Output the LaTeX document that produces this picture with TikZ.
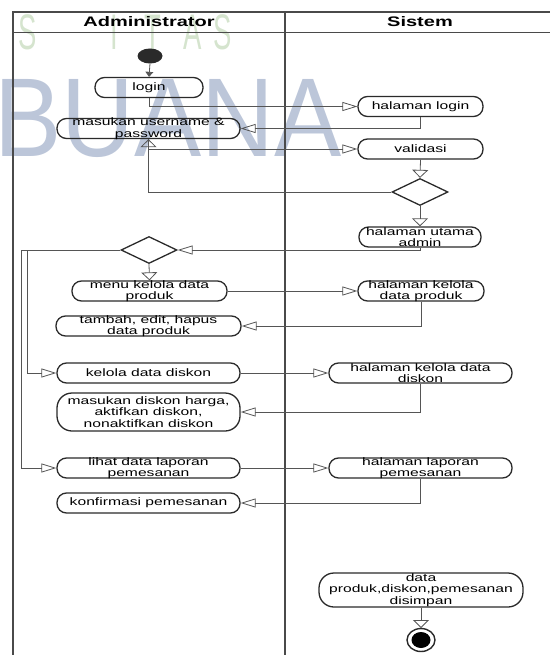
\documentclass[tikz,border=0pt]{standalone}
\usepackage{fontspec}
\setmainfont{Liberation Sans}[FakeStretch=1.45]
\newfontfamily\wmfont{Liberation Sans}
\usetikzlibrary{arrows.meta,shapes.geometric}

\definecolor{ink}{HTML}{2A2A2A}
\definecolor{wire}{HTML}{555555}
\definecolor{wmblue}{HTML}{BCC6D9}
\definecolor{wmgreen}{HTML}{D5E4CE}

\begin{document}
\begin{tikzpicture}[x=1pt,y=-1pt,
  frame/.style={draw=ink!85, line width=1.3pt},
  act/.style={draw=ink, line width=1.3pt, rounded corners=9.5pt,
              minimum height=20pt, inner sep=0pt},
  txt/.style={font=\fontsize{10.8}{11.5}\selectfont, align=center,
              inner sep=0pt, text=black},
  dec/.style={diamond, draw=ink, line width=1.3pt, minimum width=56pt,
              minimum height=27pt, inner sep=0pt},
  head/.style={font=\fontsize{13.8}{14}\selectfont\bfseries, anchor=base},
  wm/.style={anchor=base, inner sep=0pt, text=wmgreen,
             font=\wmfont\fontsize{50}{50}\selectfont},
  wire/.style={draw=wire, line width=0.8pt},
  harrow/.style={wire, -{Triangle[open, length=15pt, width=9pt, line width=0.8pt]}},
  varrow/.style={wire, -{Triangle[open, length=8pt, width=16pt, line width=0.8pt]}},
  startarrow/.style={wire, -{Triangle[length=5pt, width=8pt]}}
]
\useasboundingbox (0,0) rectangle (550,655);

% faint background lettering
\node[wm] (wm1) at (28,50) {\scalebox{0.55}[1]{S}};
\node[wm] (wm2) at (114,50) {\scalebox{0.55}[1]{I}};
\node[wm] (wm3) at (153,50) {\scalebox{0.55}[1]{T}};
\node[wm] (wm4) at (193,50) {\scalebox{0.55}[1]{A}};
\node[wm] (wm5) at (223,50) {\scalebox{0.55}[1]{S}};
\node[anchor=base west, inner sep=0pt, text=wmblue] (wm6) at (-6,157)
  {\wmfont\fontsize{112}{112}\selectfont\scalebox{0.9}[1]{BUANA}};

% swimlanes
\draw[frame] (13,655) -- (13,12) -- (550,12);
\draw[frame] (13,32.5) -- (550,32.5);
\draw[frame] (285,12) -- (285,655);
\node[head] (hadmin) at (149,27) {Administrator};
\node[head] (hsys) at (420,27) {Sistem};

% start and end
\fill[ink] (150,56) ellipse [x radius=12.5, y radius=7.5];
\coordinate (start) at (150,63.5);
\coordinate (endtop) at (421,628);
\draw[ink, line width=1.4pt] (421,640) ellipse [x radius=14, y radius=11.5];
\fill[black] (421,640) ellipse [x radius=9.5, y radius=8];

% administrator lane
\node[act, minimum width=108pt, label={[txt]center:login}] (login) at (149,87.5) {};
\node[act, minimum width=183pt, label={[txt]center:{masukan username \&\\password}}] (masuk) at (148.5,128.5) {};
\node[dec] (dec2) at (149,250) {};
\node[act, minimum width=155pt, label={[txt]center:{menu kelola data\\produk}}] (menu) at (149.5,291) {};
\node[act, minimum width=185pt, label={[txt]center:{tambah, edit, hapus\\data produk}}] (tambah) at (148.5,326) {};
\node[act, minimum width=183pt, label={[txt]center:{kelola data diskon}}] (kdiskon) at (148.5,373) {};
\node[act, minimum width=183pt, minimum height=38pt, rounded corners=15pt,
      label={[txt]center:{masukan diskon harga,\\aktifkan diskon,\\nonaktifkan diskon}}] (mdiskon) at (148.5,412) {};
\node[act, minimum width=183pt, label={[txt]center:{lihat data laporan\\pemesanan}}] (lihat) at (148.5,468) {};
\node[act, minimum width=183pt, label={[txt]center:{konfirmasi pemesanan}}] (konf) at (148.5,503) {};

% system lane
\node[act, minimum width=125pt, label={[txt]center:{halaman login}}] (hlogin) at (420.5,106.5) {};
\node[act, minimum width=125pt, label={[txt]center:{validasi}}] (valid) at (420.5,149) {};
\node[dec] (dec1) at (420,192) {};
\node[act, minimum width=122pt, label={[txt]center:{halaman utama\\admin}}] (hutama) at (420,237) {};
\node[act, minimum width=126pt, label={[txt]center:{halaman kelola\\data produk}}] (hproduk) at (421,291) {};
\node[act, minimum width=183pt, label={[txt]center:{halaman kelola data\\diskon}}] (hdiskon) at (420.5,373) {};
\node[act, minimum width=183pt, label={[txt]center:{halaman laporan\\pemesanan}}] (hlaporan) at (420.5,468) {};
\node[act, minimum width=204pt, minimum height=34pt, rounded corners=15pt,
      label={[txt]center:{data\\produk,diskon,pemesanan\\disimpan}}] (simpan) at (421,590) {};

% loop-back corners on the left edge
\coordinate (loopA) at (27,250);
\coordinate (loopB) at (21,250);

% flows
\draw[startarrow] (start) -- (login.north);
\draw[harrow] (login.south) |- (hlogin.west);
\draw[harrow] (hlogin.south) |- (masuk.east);
\draw[harrow] (masuk.south) |- (valid.west);
\draw[varrow] (valid.south) -- (dec1.north);
\draw[varrow] (dec1.west) -| (masuk.south);
\draw[varrow] (dec1.south) -- (hutama.north);
\draw[harrow] (hutama.south) |- (dec2.east);
\draw[varrow] (dec2.south) -- (menu.north);
\draw[harrow] (dec2.west) -- (loopA) |- (kdiskon.west);
\draw[harrow] (dec2.west) -- (loopB) |- (lihat.west);
\draw[harrow] (menu.east) -- (hproduk.west);
\draw[harrow] (hproduk.south) |- (tambah.east);
\draw[harrow] (kdiskon.east) -- (hdiskon.west);
\draw[harrow] (hdiskon.south) |- (mdiskon.east);
\draw[harrow] (lihat.east) -- (hlaporan.west);
\draw[harrow] (hlaporan.south) |- (konf.east);
\draw[varrow] (simpan.south) -- (endtop);
\end{tikzpicture}
\end{document}
